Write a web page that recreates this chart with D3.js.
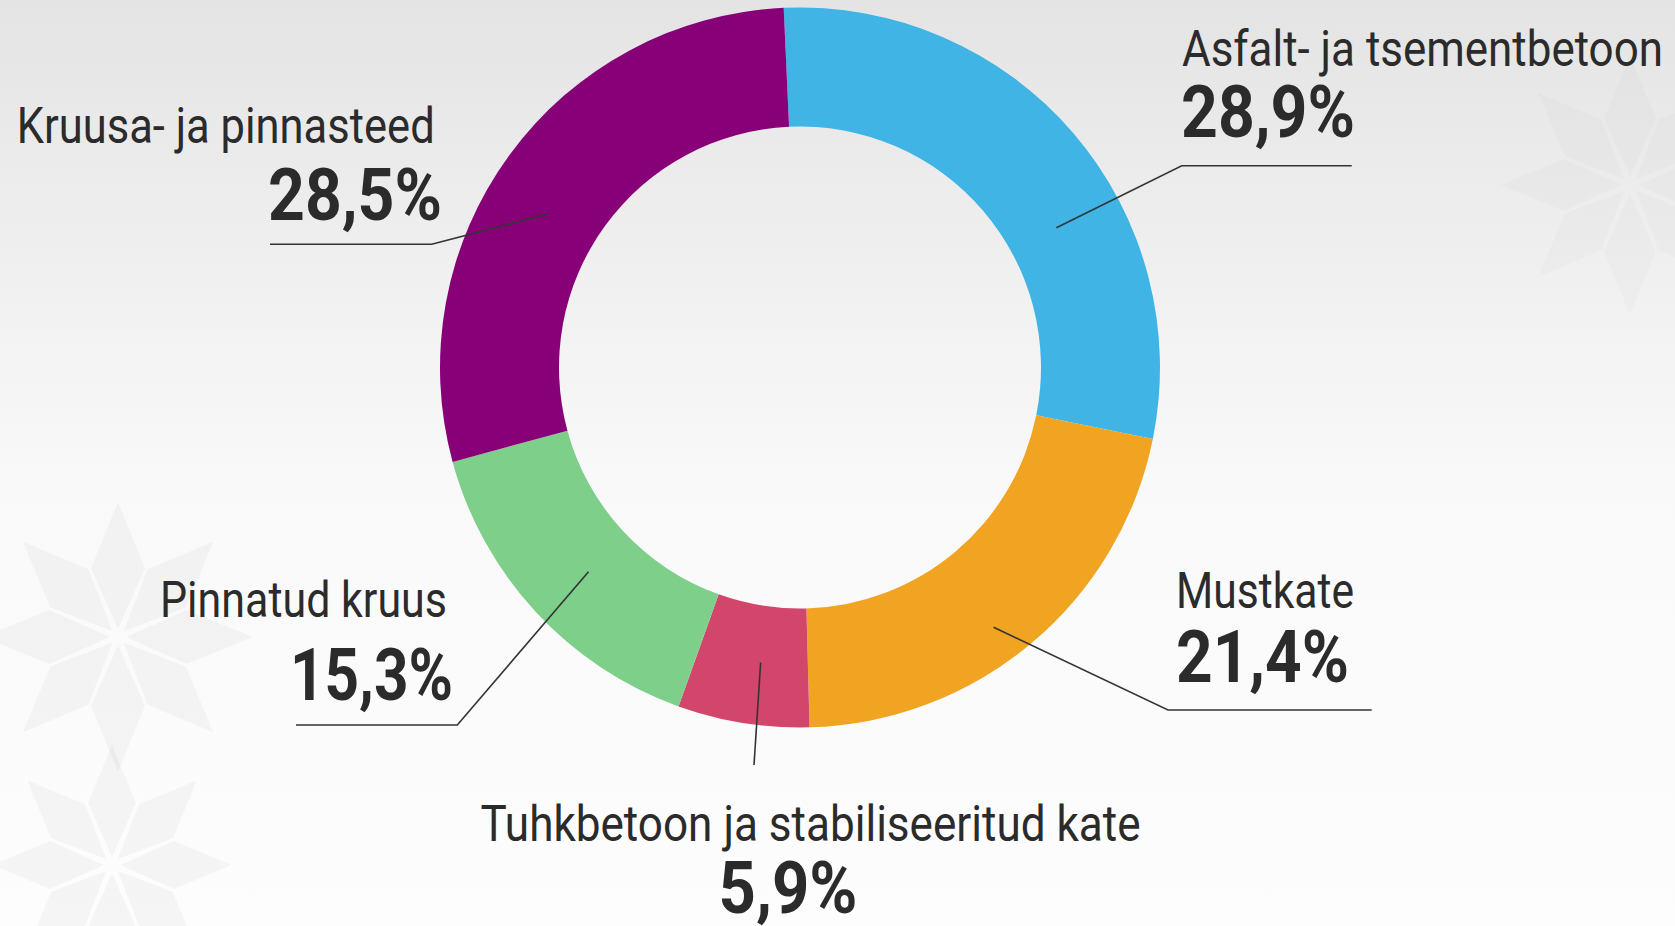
<!DOCTYPE html>
<html>
<head>
<meta charset="utf-8">
<script src="https://cdn.jsdelivr.net/npm/d3@7"></script>
<style>
  html, body { margin: 0; padding: 0; background: #fff; }
  svg { display: block; }
</style>
</head>
<body>
<svg id="chart" width="1675" height="926"></svg>
<script>
// ---- data ----
const categories = ["Asfalt- ja tsementbetoon", "Mustkate", "Tuhkbetoon ja stabiliseeritud kate", "Pinnatud kruus", "Kruusa- ja pinnasteed"];
const shares = [28.9, 21.4, 5.9, 15.3, 28.5];
const percentLabels = ["28,9%", "21,4%", "5,9%", "15,3%", "28,5%"];
const sliceColors = ["#41b4e6", "#f0a422", "#d3466b", "#7ecf8a", "#880077"];

// ---- layout ----
const W = 1675, H = 926;
const cx = 800, cy = 367.5;
const rOuter = 360, rInner = 241;
const startDeg = -2.6;
const textColor = "#2b2b2b";

// label placement (layout only)
const labelLayout = [
  { a: 61.4, r: 292, elbow: [1181.7, 165.7], end: [1351.7, 165.7],
    name: [1182, 66, 481, "start"], pct: [1181, 137, 174, "start"] },
  { a: 143.3, r: 324, elbow: [1168, 710], end: [1371.7, 710],
    name: [1176, 608, 178, "start"], pct: [1176, 682, 173, "start"] },
  { a: 187.6, r: 297.6, elbow: null, end: [754, 765],
    name: [810.6, 840.5, 660, "middle"], pct: [788, 913, 139, "middle"] },
  { a: 226, r: 294, elbow: [457.3, 725], end: [296, 725],
    name: [160, 617, 287, "start"], pct: [290, 700, 163, "start"] },
  { a: 301.4, r: 295, elbow: [431.7, 244.3], end: [270, 244.3],
    name: [16.7, 142.7, 418, "start"], pct: [268, 220, 174, "start"] }
];

const svg = d3.select("#chart");

// background gradient
const defs = svg.append("defs");
const grad = defs.append("linearGradient").attr("id", "bg").attr("x1", 0).attr("y1", 0).attr("x2", 0).attr("y2", 1);
grad.append("stop").attr("offset", "0%").attr("stop-color", "#e4e4e4");
grad.append("stop").attr("offset", "52%").attr("stop-color", "#f9f9f9");
grad.append("stop").attr("offset", "100%").attr("stop-color", "#fdfdfd");
svg.append("rect").attr("width", W).attr("height", H).attr("fill", "url(#bg)");

// faint decorative stars
const starCenters = [[118, 637, 135, 0.03], [112, 865, 120, 0.03], [1630, 185, 130, 0.015]];
const deco = svg.append("g").attr("fill", "#000");
starCenters.forEach(([sx, sy, R, op]) => {
  for (let k = 0; k < 8; k++) {
    const ang = k * 45;
    const g0 = 8, w = R * 0.2;
    const pts = [[0, -g0], [w, -g0 - R * 0.45], [0, -R], [-w, -g0 - R * 0.45]];
    deco.append("polygon")
      .attr("fill-opacity", op)
      .attr("points", pts.map(p => p.join(",")).join(" "))
      .attr("transform", `translate(${sx},${sy}) rotate(${ang})`);
  }
});

// donut
const pie = d3.pie().sort(null).value(d => d)
  .startAngle(startDeg * Math.PI / 180)
  .endAngle(startDeg * Math.PI / 180 + 2 * Math.PI);
const arc = d3.arc().innerRadius(rInner).outerRadius(rOuter);
const arcs = pie(shares);

const g = svg.append("g").attr("transform", `translate(${cx},${cy})`);
g.selectAll("path.slice").data(arcs).enter().append("path")
  .attr("class", "slice")
  .attr("d", arc)
  .attr("fill", (d, i) => sliceColors[i]);

// leader lines
const lines = svg.append("g").attr("fill", "none").attr("stroke", "#333").attr("stroke-width", 1.6);
labelLayout.forEach((L) => {
  const p = d3.pointRadial(L.a * Math.PI / 180, L.r);
  const start = [cx + p[0], cy + p[1]];
  const pts = L.elbow ? [start, L.elbow, L.end] : [start, L.end];
  lines.append("path").attr("d", d3.line()(pts));
});

// texts
const labels = svg.append("g").attr("fill", textColor);
labelLayout.forEach((L, i) => {
  const [nx, ny, nw, na] = L.name;
  labels.append("text")
    .attr("x", nx).attr("y", ny)
    .attr("text-anchor", na)
    .attr("textLength", nw).attr("lengthAdjust", "spacingAndGlyphs")
    .style("font-family", "Roboto, 'Noto Sans', sans-serif")
    .style("font-size", "50px")
    .style("font-weight", 400)
    .text(categories[i]);
  const [px, py, pw, pa] = L.pct;
  labels.append("text")
    .attr("x", px).attr("y", py)
    .attr("text-anchor", pa)
    .attr("textLength", pw).attr("lengthAdjust", "spacingAndGlyphs")
    .style("font-family", "Roboto, 'Noto Sans', sans-serif")
    .style("font-size", "73px")
    .style("font-weight", 700)
    .text(percentLabels[i]);
});
</script>
</body>
</html>
